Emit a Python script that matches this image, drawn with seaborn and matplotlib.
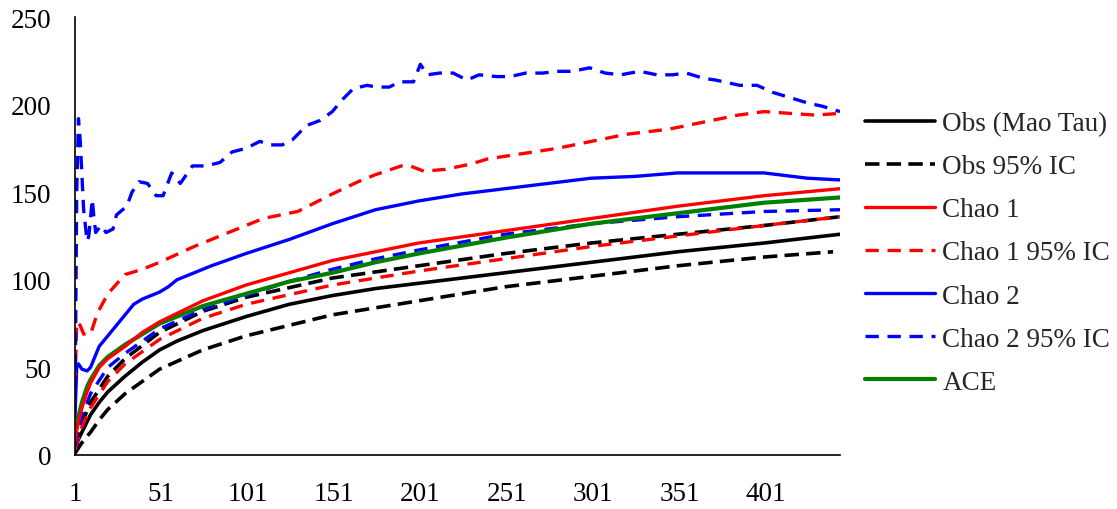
import matplotlib
matplotlib.use("Agg")
import matplotlib.pyplot as plt
import seaborn as sns
from matplotlib.lines import Line2D

# ---------------- data ----------------
obs_x = [1, 2, 3, 5, 8, 10, 15, 20, 30, 40, 50, 60, 75, 100, 125, 150, 175, 200, 250, 300, 350, 400, 444]
obs_y = [3, 6, 9, 13, 19, 23, 30, 36, 45, 53, 60, 65, 71, 79, 86, 91, 95, 98, 104, 110, 116, 121, 126]

obs_lo_x = [1, 3, 5, 10, 15, 20, 30, 40, 50, 75, 100, 150, 200, 250, 300, 350, 400, 440]
obs_lo_y = [1, 4, 7, 13, 20, 26, 35, 42, 49, 60, 68, 80, 88, 96, 102, 108, 113, 116]

obs_hi_x = [1, 3, 5, 10, 20, 30, 50, 75, 100, 150, 200, 250, 300, 350, 400, 444]
obs_hi_y = [5, 12, 18, 30, 45, 55, 70, 82, 90, 101, 108, 115, 121, 126, 131, 136]

chao1_x = [1, 2, 3, 5, 8, 10, 15, 20, 30, 40, 50, 75, 100, 125, 150, 175, 200, 250, 300, 350, 400, 444]
chao1_y = [8, 14, 19, 27, 36, 41, 50, 55, 62, 70, 76, 88, 97, 104, 111, 116, 121, 128, 135, 142, 148, 152]

chao1_lo_x = [1, 3, 5, 10, 20, 30, 50, 75, 100, 150, 200, 250, 300, 350, 400, 444]
chao1_lo_y = [3, 10, 16, 27, 42, 52, 66, 78, 86, 97, 105, 112, 119, 125, 131, 136]

chao1_hi_x = [1, 2, 4, 6, 10, 14, 20, 30, 40, 50, 70, 90, 110, 130, 150, 165, 175, 190, 195, 203, 215,
              230, 240, 260, 280, 300, 320, 345, 365, 385, 400, 415, 430, 444]
chao1_hi_y = [40, 76, 74, 69, 69, 81, 92, 103, 106, 110, 119, 127, 135, 139, 149, 156, 160, 165, 165, 162, 163,
              166, 169, 172, 175, 179, 183, 186, 190, 194, 196, 195, 194, 195]

chao2_x = [1, 2, 3, 5, 8, 10, 15, 20, 25, 30, 35, 40, 45, 50, 55, 60, 70, 80, 100, 125, 150, 175,
           200, 225, 250, 275, 300, 325, 350, 375, 400, 425, 444]
chao2_y = [22, 50, 52, 49, 48, 50, 62, 68, 74, 80, 86, 89, 91, 93, 96, 100, 104, 108, 115, 123, 132, 140,
           145, 149, 152, 155, 158, 159, 161, 161, 161, 158, 157]

chao2_lo_x = [1, 3, 5, 10, 20, 30, 50, 75, 100, 125, 150, 175, 200, 250, 300, 350, 400, 444]
chao2_lo_y = [5, 15, 22, 35, 50, 58, 72, 83, 91, 99, 106, 112, 117, 126, 132, 136, 139, 140]

chao2_hi_x = [1, 2, 3, 4, 5, 6, 7, 8, 9, 11, 12, 13, 16, 19, 23, 25, 31, 34, 38, 43, 48, 52, 57, 62,
              69, 77, 85, 92, 100, 108, 114, 121, 127, 135, 143, 150, 156, 162, 170, 176, 183, 189, 197,
              201, 205, 212, 220, 228, 235, 245, 253, 262, 272, 280, 289, 299, 308, 317, 328, 338, 347,
              355, 365, 372, 386, 396, 405, 415, 425, 434, 444]
chao2_hi_y = [25, 150, 192, 180, 160, 140, 131, 122, 125, 146, 135, 127, 131, 127, 129, 137, 142, 150, 156,
              155, 148, 148, 161, 155, 165, 165, 167, 173, 175, 179, 177, 177, 180, 188, 191, 196, 203, 209,
              211, 210, 210, 213, 213, 223, 217, 218, 218, 214, 217, 216, 216, 218, 218, 219, 219, 221, 218,
              217, 219, 217, 217, 218, 215, 214, 211, 211, 207, 204, 201, 199, 196]

ace_x = [1, 2, 3, 5, 8, 10, 15, 20, 30, 40, 50, 75, 100, 125, 150, 175, 200, 250, 300, 350, 400, 444]
ace_y = [12, 18, 22, 30, 39, 43, 51, 56, 63, 69, 75, 85, 92, 99, 104, 110, 115, 124, 132, 138, 144, 147]

labels = ["Obs (Mao Tau)", "Obs 95% IC", "Chao 1", "Chao 1 95% IC", "Chao 2", "Chao 2 95% IC", "ACE"]
x_ticks = [1, 51, 101, 151, 201, 251, 301, 351, 401]
y_ticks = [0, 50, 100, 150, 200, 250]

# ---------------- style ----------------
sns.set_theme(style="white")
plt.rcParams["font.family"] = ["Liberation Serif", "DejaVu Serif"]

fig = plt.figure(figsize=(11.17, 5.10), dpi=100)
ax = fig.add_axes([75 / 1117, 54 / 510, (840 - 75) / 1117, (456 - 18) / 510])

BLK, RED, BLU, GRN = "#000000", "#FF0000", "#0000FF", "#008000"
dash_k = (0, (4, 2))
dash_c = (0, (4, 2.6))
FS = 19.5

series = [
    (obs_lo_x, obs_lo_y, BLK, dash_k, 2.6),
    (obs_hi_x, obs_hi_y, BLK, dash_k, 2.6),
    (obs_x, obs_y, BLK, "-", 2.6),
    (chao1_lo_x, chao1_lo_y, RED, dash_c, 2.4),
    (chao2_lo_x, chao2_lo_y, BLU, dash_c, 2.4),
    (ace_x, ace_y, GRN, "-", 3.0),
    (chao1_x, chao1_y, RED, "-", 2.4),
    (chao2_x, chao2_y, BLU, "-", 2.4),
    (chao1_hi_x, chao1_hi_y, RED, dash_c, 2.4),
    (chao2_hi_x, chao2_hi_y, BLU, dash_c, 2.4),
]
for xs, ys, c, ls, lw in series:
    sns.lineplot(x=xs, y=ys, ax=ax, color=c, linestyle=ls, linewidth=lw,
                 estimator=None, sort=False, legend=False)

ax.set_xlim(1, 444)
ax.set_ylim(0, 250)
ax.set_xticks(x_ticks)
ax.set_xticklabels([str(t) for t in x_ticks])
ax.set_yticks(y_ticks)
ax.set_yticklabels([str(t) for t in y_ticks])

for s in ["top", "right"]:
    ax.spines[s].set_visible(False)
for s in ["left", "bottom"]:
    ax.spines[s].set_color("black")
    ax.spines[s].set_linewidth(1.2)

ax.tick_params(axis="both", which="major", direction="out", length=5, width=1,
               color="#808080", labelsize=FS, labelcolor="black")
ax.tick_params(axis="x", pad=14)
ax.tick_params(axis="y", pad=12)
ax.grid(False)

handles = [
    Line2D([], [], color=BLK, lw=2.6, ls="-"),
    Line2D([], [], color=BLK, lw=2.6, ls=dash_k),
    Line2D([], [], color=RED, lw=2.4, ls="-"),
    Line2D([], [], color=RED, lw=2.4, ls=dash_c),
    Line2D([], [], color=BLU, lw=2.4, ls="-"),
    Line2D([], [], color=BLU, lw=2.4, ls=dash_c),
    Line2D([], [], color=GRN, lw=3.0, ls="-"),
]
fig.legend(handles, labels, loc="upper left",
           bbox_to_anchor=(865 / 1117, 1 - 112 / 510), bbox_transform=fig.transFigure,
           frameon=False, fontsize=FS, handlelength=2.6, handletextpad=0.26,
           labelspacing=0.67, borderpad=0, borderaxespad=0)

fig.savefig("out.png", dpi=100)
